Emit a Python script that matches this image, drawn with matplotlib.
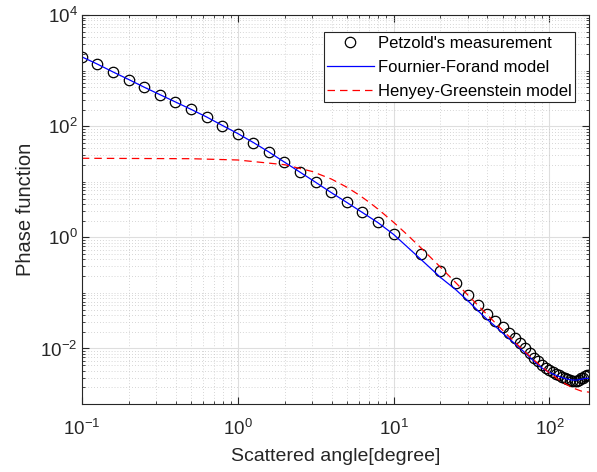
import numpy as np
import matplotlib
matplotlib.use("Agg")
from matplotlib import pyplot as plt
from matplotlib.ticker import LogLocator, LogFormatterSciNotation, NullFormatter

plt.rcParams["font.family"] = ["Liberation Sans", "DejaVu Sans"]
plt.rcParams["mathtext.fontset"] = "custom"
plt.rcParams["mathtext.rm"] = "Liberation Sans"
plt.rcParams["mathtext.it"] = "Liberation Sans:italic"

# Petzold's measurement (angle in degrees, phase function)
meas_angle = [0.1, 0.126, 0.158, 0.2, 0.251, 0.316, 0.398, 0.501, 0.631, 0.794,
              1.0, 1.259, 1.585, 1.995, 2.512, 3.162, 3.981, 5.012, 6.31, 7.943,
              10, 15, 20, 25, 30, 35, 40, 45, 50, 55, 60, 65, 70, 75, 80, 85, 90,
              95, 100, 105, 110, 115, 120, 125, 130, 135, 140, 145, 150, 155,
              160, 165, 170, 175, 180]
meas_value = [1775, 1310, 953, 693, 505, 372, 274, 202, 147, 103,
              73.8, 50, 34.4, 22.4, 14.8, 9.8, 6.47, 4.28, 2.82, 1.86,
              1.15, 0.494, 0.244, 0.152, 0.090, 0.0612, 0.0425, 0.031, 0.0242,
              0.0189, 0.0153, 0.0125, 0.0101, 0.0084, 0.0068, 0.0059, 0.0051,
              0.0045, 0.0041, 0.0037, 0.0035, 0.0033, 0.0031, 0.00295, 0.0028,
              0.0027, 0.00265, 0.0026, 0.00265, 0.0027, 0.0029, 0.0030, 0.0032,
              0.0033, 0.0034]

# Fournier-Forand model curve
ff_angle = [0.1, 0.126, 0.158, 0.2, 0.251, 0.316, 0.398, 0.501, 0.631, 0.794,
            1.0, 1.259, 1.585, 1.995, 2.512, 3.162, 3.981, 5.012, 6.31, 7.943,
            10, 15, 20, 25, 30, 35, 40, 45, 50, 60, 70, 80, 90, 100, 110, 120,
            130, 140, 150, 160, 170, 180]
ff_value = [1775, 1310, 953, 693, 505, 372, 274, 202, 147, 104,
            74, 51, 34.4, 22.6, 14.9, 9.8, 6.4, 4.25, 2.8, 1.84,
            1.13, 0.40, 0.19, 0.115, 0.072, 0.047, 0.033, 0.025, 0.019, 0.0122,
            0.0083, 0.0058, 0.0044, 0.0037, 0.0033, 0.0030, 0.0028, 0.0027,
            0.0027, 0.0028, 0.0029, 0.0029]

# Henyey-Greenstein model curve
hg_angle = [0.1, 0.5, 1, 2, 3, 4, 5, 6, 7, 8, 10, 12, 15, 20, 25, 30, 40, 50,
            60, 70, 80, 90, 100, 120, 140, 160, 180]
hg_value = [26.49, 26.03, 24.68, 20.29, 15.36, 11.17, 8.03, 5.80, 4.257, 3.177,
            1.869, 1.173, 0.6456, 0.2899, 0.1538, 0.0912, 0.04012, 0.02141,
            0.01298, 0.008617, 0.006131, 0.004610, 0.003628, 0.002513,
            0.001968, 0.0017105, 0.0016338]

x_ticks = [0.1, 1, 10, 100]
y_ticks = [1e-2, 1e0, 1e2, 1e4]

fig = plt.figure(figsize=(5.97, 4.72), dpi=100)
ax = fig.add_axes([0.137, 0.144, 0.850, 0.824])

ax.loglog(meas_angle, meas_value, "o", mfc="none", mec="black", ms=7.5, mew=0.9,
          label="Petzold's measurement")
ax.loglog(ff_angle, ff_value, "-", color="blue", lw=0.9, label="Fournier-Forand model")
ax.loglog(hg_angle, hg_value, "--", color="red", lw=0.9, dashes=(6, 4),
          label="Henyey-Greenstein model")

ax.set_xlim(0.1, 180)
ax.set_ylim(1e-3, 1e4)

ax.set_xticks(x_ticks)
ax.set_yticks(y_ticks)
ax.xaxis.set_minor_locator(LogLocator(base=10, subs=np.arange(2, 10), numticks=20))
ax.yaxis.set_minor_locator(LogLocator(base=10, subs=np.arange(1, 10), numticks=20))
ax.xaxis.set_major_formatter(LogFormatterSciNotation())
ax.yaxis.set_major_formatter(LogFormatterSciNotation())
ax.xaxis.set_minor_formatter(NullFormatter())
ax.yaxis.set_minor_formatter(NullFormatter())
ax.set_xlim(0.1, 180)
ax.set_ylim(1e-3, 1e4)

ax.grid(True, which="major", color="#dedede", lw=0.8)
ax.grid(True, which="minor", color="#c8c8c8", lw=0.6, ls=(0, (1, 2.5)))
ax.set_axisbelow(True)

for s in ax.spines.values():
    s.set_color("#262626")
    s.set_linewidth(0.8)
ax.tick_params(which="both", direction="in", top=True, right=True, colors="#262626",
               labelsize=13.5)
ax.tick_params(axis="x", which="major", pad=11)
ax.tick_params(axis="y", which="major", pad=3)
ax.tick_params(which="major", length=5)
ax.tick_params(which="minor", length=2.5)

ax.set_xlabel("Scattered angle[degree]", fontsize=14, color="#262626", labelpad=6)
ax.set_ylabel("Phase function", fontsize=14.5, color="#262626", labelpad=4)

leg = ax.legend(loc="upper right", bbox_to_anchor=(0.972, 0.956), fontsize=12,
                fancybox=False, framealpha=1, edgecolor="#262626",
                handlelength=2.8, handletextpad=0.25, borderpad=0.2,
                labelspacing=0.55, borderaxespad=0)
leg.get_frame().set_linewidth(0.8)

fig.savefig("out.png", dpi=100)
